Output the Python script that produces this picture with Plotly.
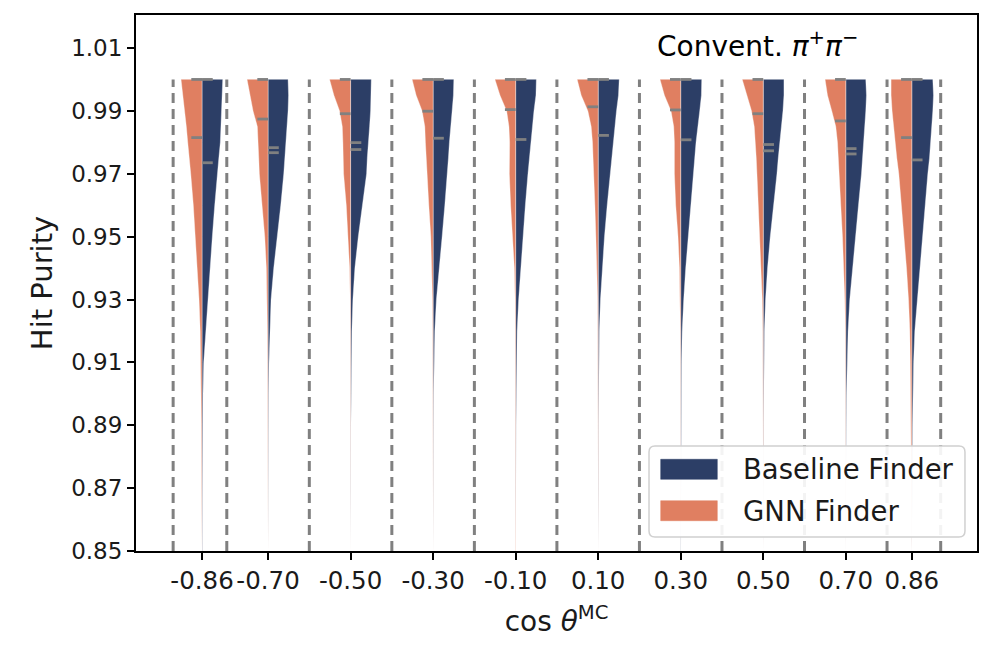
import plotly.graph_objects as go

# ---------------- data ----------------
CENTERS = [-0.86, -0.70, -0.50, -0.30, -0.10, 0.10, 0.30, 0.50, 0.70, 0.86]
TICK_TEXT = ["-0.86", "-0.70", "-0.50", "-0.30", "-0.10", "0.10", "0.30", "0.50", "0.70", "0.86"]
BIN_EDGES = [-0.93, -0.80, -0.60, -0.40, -0.20, 0.00, 0.20, 0.40, 0.60, 0.80, 0.93]
Y_TICKS = [0.85, 0.87, 0.89, 0.91, 0.93, 0.95, 0.97, 0.99, 1.01]
SERIES = ["Baseline Finder", "GNN Finder"]

# purity levels at which the violin density (half-width) was read
LEVELS = [1.000, 0.995, 0.990, 0.985, 0.980, 0.975, 0.970, 0.960, 0.950,
          0.940, 0.930, 0.920, 0.910, 0.900, 0.890, 0.870, 0.850]

# relative density (violin half-width) per bin, GNN Finder
GNN_DENS = [
    [21, 19, 17.3, 15.7, 14.3, 12.7, 11.3, 8.7, 6.7, 4.7, 3, 1.8, 1.3, 0.9, 0.7, 0.5, 0.4],
    [21, 18.3, 15, 10.7, 9.7, 9.3, 8.7, 6, 3.3, 1.7, 1, 0.7, 0.5, 0.45, 0.4, 0.35, 0.3],
    [21, 16.7, 11, 8.3, 7.7, 7.7, 7, 4.3, 2.3, 1, 0.5, 0.4, 0.35, 0.3, 0.3, 0.3, 0.3],
    [21, 17, 11, 8.3, 7.7, 7, 6.3, 4.3, 2.3, 1.3, 0.7, 0.45, 0.35, 0.3, 0.3, 0.3, 0.3],
    [20.7, 15.7, 9, 6.7, 6, 6.3, 6.3, 5, 3, 1.3, 0.6, 0.45, 0.35, 0.3, 0.3, 0.3, 0.3],
    [21, 17, 10.3, 7, 5.7, 5, 4.3, 3.3, 2.3, 1.3, 0.6, 0.45, 0.35, 0.3, 0.3, 0.3, 0.3],
    [20.7, 16.3, 9.7, 7, 6.3, 6.3, 6.3, 5, 2.7, 1.3, 0.6, 0.45, 0.35, 0.3, 0.3, 0.3, 0.3],
    [21, 16.7, 11.7, 9, 7.7, 7, 6.3, 5, 3.3, 2, 1, 0.5, 0.4, 0.3, 0.3, 0.3, 0.3],
    [20.7, 18.3, 14, 10, 8.3, 7.3, 6.7, 5, 3.3, 2, 1, 0.5, 0.4, 0.35, 0.3, 0.3, 0.3],
    [20.7, 20.7, 19.7, 18.3, 16.7, 15, 13, 10.3, 7.7, 5.3, 3.3, 2.0, 1.5, 1.2, 1.0, 0.6, 0.45],
]
# relative density (violin half-width) per bin, Baseline Finder
BASE_DENS = [
    [20.7, 20, 19.5, 19, 18.3, 16.8, 15.3, 12.7, 10.3, 8, 5.7, 3.7, 1.7, 1.0, 0.7, 0.5, 0.4],
    [20, 20.5, 20, 19, 18, 17, 15.7, 12.7, 9, 5.7, 3, 1.7, 1, 0.6, 0.45, 0.35, 0.3],
    [20.7, 20.7, 20, 19, 17.7, 16.7, 16, 11.7, 7.7, 4.3, 2.3, 1.3, 0.8, 0.5, 0.4, 0.35, 0.3],
    [20.7, 20.3, 19, 17.3, 16.3, 15.3, 14.3, 11.7, 9, 6, 3.3, 1.7, 1, 0.6, 0.45, 0.35, 0.3],
    [20.7, 20.3, 18.3, 16.7, 15, 13.7, 12.3, 9.7, 7.3, 5, 3, 1.5, 0.9, 0.6, 0.45, 0.35, 0.3],
    [21, 20.3, 18.3, 16.7, 15.3, 13.7, 12.3, 9, 6.3, 4, 2.3, 1.2, 0.8, 0.5, 0.4, 0.35, 0.3],
    [21, 20.7, 19, 17, 15.3, 14, 12.7, 10, 7.3, 5, 3, 1.5, 0.9, 0.6, 0.45, 0.35, 0.3],
    [20.7, 20.7, 19.7, 18, 16.7, 15, 13.7, 10.3, 7, 4.3, 2.3, 1.2, 0.8, 0.5, 0.4, 0.35, 0.3],
    [20, 20.7, 20, 19, 18, 17, 15.7, 12.7, 9.7, 6.7, 4, 2.3, 1.3, 0.8, 0.5, 0.4, 0.3],
    [21, 21.7, 21, 20, 19, 17.7, 16, 13.3, 10.7, 8, 5.3, 3, 1.8, 1.1, 0.8, 0.5, 0.4],
]

# quartile marker values per bin
GNN_QUART = [[1.0, 0.9815], [1.0, 0.9874], [1.0, 0.9891], [1.0, 0.9899], [1.0, 0.9904],
             [1.0, 0.9913], [1.0, 0.9903], [1.0, 0.9891], [1.0, 0.9868], [1.0, 0.9815]]
BASE_QUART = [[1.0, 0.9735], [0.9783, 0.9767], [0.9799, 0.9777], [1.0, 0.9813], [1.0, 0.9809],
              [1.0, 0.9822], [1.0, 0.9808], [0.9793, 0.9773], [0.9780, 0.9763], [1.0, 0.9744]]

# ---------------- style ----------------
BLUE = "#2c3e66"
ORANGE = "#e07f61"
GREY = "#808080"
DENS_SCALE = 1 / 412.5      # density units -> x-axis units
QLEN = 0.026                # quartile marker length (x units)
FONT = "DejaVu Sans"
TXT = "#1a1a1a"

fig = go.Figure()


def add_half(center, dens, sign, color, name):
    xs, ys = [], []
    for lv, d in zip(LEVELS, dens):
        xs.append(center + sign * d * DENS_SCALE)
        ys.append(lv)
    for lv in reversed(LEVELS):
        xs.append(center)
        ys.append(lv)
    fig.add_trace(go.Scatter(
        x=xs, y=ys, mode="lines", fill="toself", fillcolor=color,
        line=dict(color="rgba(255,255,255,0.6)", width=0.6),
        name=name, legendgroup=name, showlegend=False, hoverinfo="skip"))


for i, c in enumerate(CENTERS):
    add_half(c, BASE_DENS[i], +1, BLUE, SERIES[0])
for i, c in enumerate(CENTERS):
    add_half(c, GNN_DENS[i], -1, ORANGE, SERIES[1])

# quartile markers
qx, qy = [], []
for c, qs in zip(CENTERS, GNN_QUART):
    for q in qs:
        qx += [c - QLEN, c, None]
        qy += [q, q, None]
for c, qs in zip(CENTERS, BASE_QUART):
    for q in qs:
        qx += [c, c + QLEN, None]
        qy += [q, q, None]
fig.add_trace(go.Scatter(x=qx, y=qy, mode="lines", line=dict(color=GREY, width=2.8),
                         showlegend=False, hoverinfo="skip"))

# dashed bin edges
for e in BIN_EDGES:
    fig.add_shape(type="line", x0=e, x1=e, y0=0.85, y1=1.0, xref="x", yref="y",
                  line=dict(color=GREY, width=3, dash="10px,6px"), layer="above")

# ---- legend box (drawn in paper coordinates, lower right) ----
LX0, LX1, LY0, LY1 = 0.610, 0.9857, 0.0261, 0.1959
rx, ry = 6 / 841, 6 / 536
path = (f"M {LX0+rx},{LY0} L {LX1-rx},{LY0} Q {LX1},{LY0} {LX1},{LY0+ry} "
        f"L {LX1},{LY1-ry} Q {LX1},{LY1} {LX1-rx},{LY1} L {LX0+rx},{LY1} "
        f"Q {LX0},{LY1} {LX0},{LY1-ry} L {LX0},{LY0+ry} Q {LX0},{LY0} {LX0+rx},{LY0} Z")
fig.add_shape(type="path", path=path, xref="paper", yref="paper",
              fillcolor="rgba(255,255,255,0.9)", line=dict(color="#d0d0d0", width=1.5),
              layer="above")
legend_rows = [(SERIES[0], BLUE, 0.1338, 0.1711), (SERIES[1], ORANGE, 0.0565, 0.0938)]
for name, col, y0, y1 in legend_rows:
    fig.add_shape(type="rect", xref="paper", yref="paper", x0=0.6239, x1=0.6912,
                  y0=y0, y1=y1, fillcolor=col, line=dict(color=col, width=0.5),
                  layer="above")
    fig.add_annotation(text=name, xref="paper", yref="paper", x=0.719, y=(y0 + y1) / 2,
                       xanchor="left", yanchor="middle", showarrow=False,
                       font=dict(family=FONT, size=27.5, color=TXT))

fig.add_annotation(
    text="Convent. <i>π</i><sup>+</sup><i>π</i><sup>−</sup>",
    xref="paper", yref="paper", x=0.617, y=0.945, xanchor="left", yanchor="middle",
    showarrow=False, font=dict(family=FONT, size=28, color="black"))

axis_common = dict(showline=True, linecolor="black", linewidth=2, mirror=True,
                   ticks="outside", ticklen=7, tickwidth=1.8, tickcolor="black",
                   showgrid=False, zeroline=False)

fig.update_layout(
    width=989, height=648,
    margin=dict(l=128, r=20, t=7, b=105),
    paper_bgcolor="white", plot_bgcolor="white",
    font=dict(family=FONT, color=TXT),
    xaxis=dict(range=[-1.02, 1.018], tickvals=CENTERS, ticktext=TICK_TEXT,
               tickangle=0, automargin=False,
               tickfont=dict(family=FONT, size=24.5, color=TXT),
               title=dict(text="cos <i>θ</i><sup>MC</sup>", font=dict(family=FONT, size=28),
                          standoff=17),
               **axis_common),
    yaxis=dict(range=[0.85, 1.0205], tickvals=Y_TICKS, automargin=False,
               ticktext=[f"{v:.2f}" for v in Y_TICKS],
               tickfont=dict(family=FONT, size=23, color=TXT),
               title=dict(text="Hit Purity", font=dict(family=FONT, size=29), standoff=10),
               **axis_common),
    showlegend=False,
)

fig.write_html("out.html")
